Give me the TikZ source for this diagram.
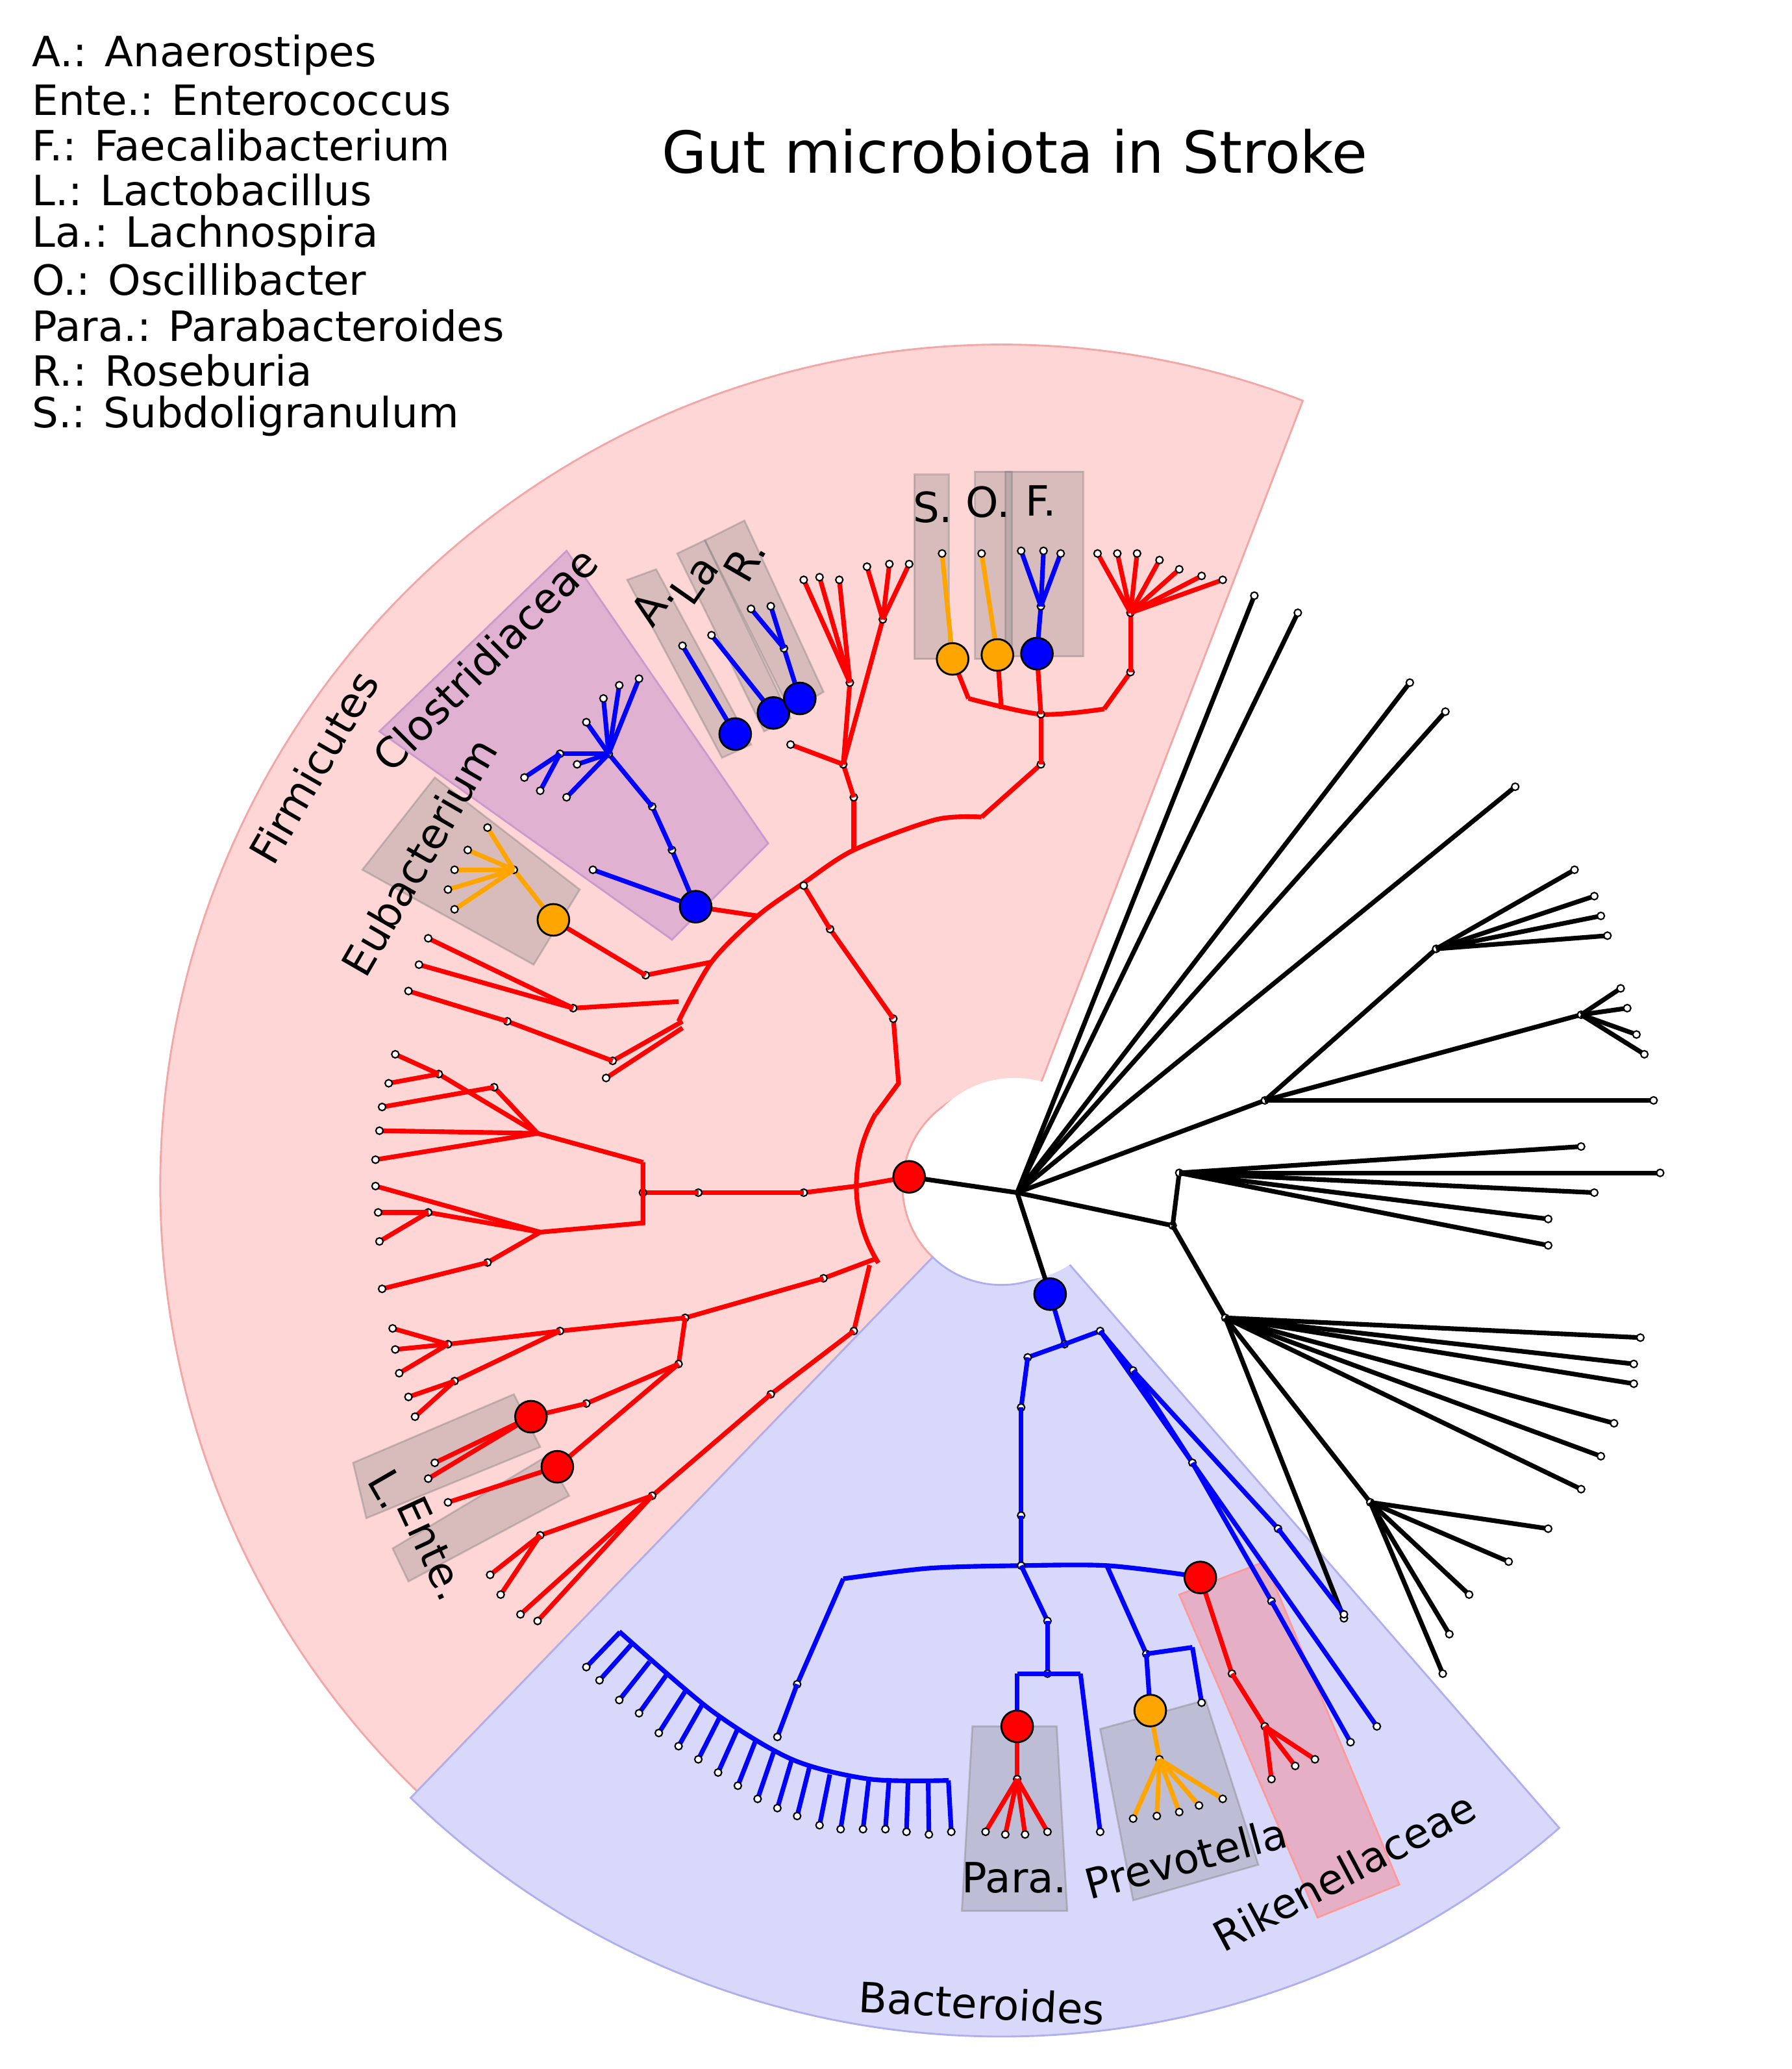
\documentclass[tikz,border=0pt]{standalone}
\usepackage{fontspec}
\setmainfont{DejaVu Sans}
\usetikzlibrary{calc}
\definecolor{pk}{HTML}{FFD6D6}\definecolor{pkb}{HTML}{F4A6A6}
\definecolor{bl}{HTML}{D8D8FA}\definecolor{blb}{HTML}{AFAFF0}
\definecolor{rd}{HTML}{FF0000}\definecolor{bu}{HTML}{0000FF}\definecolor{og}{HTML}{FFA500}
\begin{document}
\begin{tikzpicture}[x=0.01cm,y=0.01cm,
 tip/.style={circle,draw=black,fill=white,line width=0.3pt,inner sep=0,minimum size=0.055cm},
 dot/.style={circle,draw=black,line width=0.4pt,inner sep=0,minimum size=0.24cm},
 br/.style={line width=1pt},
 hl/.style={fill=gray,fill opacity=0.3,draw=gray,draw opacity=0.4},
 lab/.style={font=\fontsize{9}{10}\selectfont,inner sep=1pt},
 leg/.style={anchor=west,font=\fontsize{9}{10}\selectfont}]
\useasboundingbox (0,0) rectangle (1360,-1570);
\coordinate (C) at (760,-900);
% wedges
\fill[pk,draw=pkb] ($(C)+(69:6.38cm)$) arc[start angle=69,end angle=226,radius=6.38cm] -- ($(C)+(226:0.75cm)$) arc[start angle=226,end angle=69,radius=0.75cm] -- cycle;
\fill[bl,draw=blb] ($(C)+(226:6.45cm)$) arc[start angle=226,end angle=311,radius=6.45cm] -- ($(C)+(311:0.75cm)$) arc[start angle=311,end angle=226,radius=0.75cm] -- cycle;
\fill[white] (770,-895) circle (0.77cm);
% highlight boxes
\fill[violet!40,fill opacity=0.6,draw=violet!40] (288,-555) -- (430,-418) -- (583,-640) -- (510,-713) -- cycle;
\path[hl] (275,-660) -- (330,-590) -- (440,-675) -- (405,-732) -- cycle;
\path[hl] (476,-440) -- (498,-432) -- (570,-565) -- (548,-575) -- cycle;
\path[hl] (514,-420) -- (535,-410) -- (600,-545) -- (580,-555) -- cycle;
\path[hl] (535,-410) -- (565,-395) -- (625,-525) -- (600,-540) -- cycle;
\path[hl] (694,-360) -- (720,-360) -- (720,-500) -- (694,-500) -- cycle;
\path[hl] (740,-358) -- (768,-358) -- (768,-500) -- (740,-500) -- cycle;
\path[hl] (763,-358) -- (822,-358) -- (822,-498) -- (763,-498) -- cycle;
\path[hl] (268,-1110) -- (390,-1058) -- (410,-1098) -- (278,-1152) -- cycle;
\path[hl] (298,-1175) -- (415,-1105) -- (432,-1135) -- (310,-1200) -- cycle;
\path[hl] (738,-1310) -- (802,-1310) -- (810,-1450) -- (730,-1450) -- cycle;
\path[hl] (835,-1312) -- (915,-1290) -- (955,-1415) -- (860,-1442) -- cycle;
\fill[rd!60,fill opacity=0.35,draw=rd!40] (895,-1210) -- (960,-1185) -- (1062,-1430) -- (1000,-1455) -- cycle;
% black clade
\coordinate (R) at (772,-905);
\foreach \a/\b/\c/\d in {772/905/952/452,772/905/985/465,772/905/1070/518,772/905/1097/540,772/905/1150/597,
 772/905/960/835,960/835/1090/720,1090/720/1195/660,1090/720/1210/680,1090/720/1215/695,1090/720/1220/710,
 960/835/1200/770,1200/770/1230/750,1200/770/1235/765,1200/770/1242/785,1200/770/1248/800,960/835/1255/835,
 772/905/890/930,890/930/895/890,895/890/1260/890,895/890/1200/870,895/890/1210/905,895/890/1175/925,895/890/1175/945,
 890/930/930/1000,930/1000/1245/1015,930/1000/1240/1035,930/1000/1240/1050,930/1000/1225/1080,930/1000/1215/1105,930/1000/1200/1130,
 930/1000/1040/1140,1040/1140/1175/1160,1040/1140/1145/1185,1040/1140/1115/1210,1040/1140/1100/1240,1040/1140/1095/1270,930/1000/1020/1228}
 \draw[br,black] (\a,-\b) -- (\c,-\d) node[tip]{};
\draw[br,black] (690,-893) -- (R) -- (797,-982);
% red clade
\draw[br,rd] ($(C)+(150:1.1cm)$) arc[start angle=150,end angle=212,radius=1.1cm];
\draw[br,rd] (650,-900) -- (690,-893);
\draw[br,rd] plot[smooth] coordinates {(515,-775) (540,-730) (575,-695) (610,-670) (648,-645) (710,-622) (745,-620)};
\draw[br,rd] (665,-845) -- (682,-822) -- (678,-773) node[tip]{};
\draw[br,rd] plot[smooth] coordinates {(735,-530) (790,-542) (838,-538)};
\foreach \a/\b/\c/\d in {678/773/630/705,630/705/610/672,648/645/648/605,648/605/640/580,640/580/600/565,
 640/580/645/518,645/518/610/440,645/518/622/438,645/518/637/440,640/580/670/470,670/470/658/430,670/470/675/428,670/470/690/428,
 745/620/790/580,790/580/790/542,838/538/858/510,858/510/858/465,858/465/833/420,858/465/848/420,858/465/863/420,858/465/880/425,858/465/895/432,858/465/912/437,858/465/928/440,
 735/530/723/500,760/538/757/497,790/542/787/496,
 575/695/528/688,540/730/490/740,490/740/420/698,
 515/760/435/765,435/765/325/712,435/765/318/732,518/775/465/805,465/805/385/775,385/775/310/752,518/780/460/818,
 650/900/610/905,610/905/530/905,530/905/488/905,
 408/860/333/815,333/815/300/800,333/815/295/822,408/860/375/825,375/825/290/840,408/860/288/858,408/860/285/880,
 410/935/325/920,325/920/287/920,325/920/288/942,410/935/370/958,370/958/290/978,410/935/285/900,
 665/955/625/970,625/970/520/1000,520/1000/425/1010,425/1010/340/1020,340/1020/298/1008,340/1020/300/1024,340/1020/303/1042,
 425/1010/345/1048,345/1048/310/1060,345/1048/315/1075,520/1000/515/1035,515/1035/445/1065,445/1065/403/1075,
 515/1035/423/1113,403/1075/330/1110,403/1075/325/1122,423/1113/340/1140,
 660/960/648/1010,648/1010/585/1058,585/1058/495/1135,495/1135/410/1165,410/1165/372/1195,410/1165/380/1210,495/1135/395/1225,495/1135/408/1230}
 \draw[br,rd] (\a,-\b) -- (\c,-\d) node[tip]{};
\draw[br,rd] (488,-882) -- (408,-860);
\draw[br,rd] (488,-882) -- (488,-928) -- (410,-935);
% orange and blue in firmicutes
\foreach \a/\b/\c/\d in {420/698/390/660,390/660/370/628,390/660/355/645,390/660/345/660,390/660/340/675,390/660/345/690,723/500/715/420,757/497/745/420}
 \draw[br,og] (\a,-\b) -- (\c,-\d) node[tip]{};
\foreach \a/\b/\c/\d in {528/688/450/660,528/688/510/645,510/645/495/612,495/612/462/572,462/572/485/515,462/572/470/520,462/572/458/530,462/572/445/548,
 462/572/425/572,425/572/398/590,425/572/410/600,462/572/430/605,462/572/438/580,
 558/557/518/490,587/541/540/482,607/530/595/492,595/492/570/462,595/492/585/460,
 787/496/790/460,790/460/775/418,790/460/792/418,790/460/805/420}
 \draw[br,bu] (\a,-\b) -- (\c,-\d) node[tip]{};
% Bacteroides
\draw[br,bu] plot[smooth] coordinates {(640,-1198) (705,-1190) (775,-1188) (840,-1188) (900,-1195)};
\draw[br,bu] plot[smooth] coordinates {(470,-1238) (540,-1298) (601,-1335) (660,-1350) (720,-1351)};
\foreach \lx/\ly in {445/1265,455/1275,470/1290,485/1300,500/1315,515/1325,530/1335,545/1345,560/1355,575/1365,590/1372,605/1378,622/1385,638/1388,655/1388,672/1388,688/1390,705/1392,722/1390}
 \draw[br,bu] ($(\lx,-\ly)!0.1!(700,-1000)$) -- (\lx,-\ly) node[tip]{};
\foreach \a/\b/\c/\d in {797/982/808/1020,808/1020/780/1030,780/1030/775/1068,775/1068/775/1150,775/1150/775/1188,
 640/1198/605/1278,605/1278/590/1318,775/1188/795/1230,795/1230/795/1270,772/1270/772/1310,820/1270/835/1390,
 840/1188/870/1255,870/1255/873/1298,905/1250/912/1292,808/1020/835/1010,835/1010/1045/1310,835/1010/860/1040,860/1040/905/1110,905/1110/965/1215,965/1215/1025/1322,860/1040/970/1160,970/1160/1020/1225}
 \draw[br,bu] (\a,-\b) -- (\c,-\d) node[tip]{};
\draw[br,bu] (772,-1270) -- (820,-1270);
\draw[br,bu] (870,-1255) -- (905,-1250);
\draw[br,bu] (900,-1195) -- (911,-1197);
\foreach \a/\b/\c/\d in {772/1310/772/1350,772/1350/748/1390,772/1350/763/1392,772/1350/778/1392,772/1350/795/1390,
 911/1197/935/1270,935/1270/960/1310,960/1310/965/1350,960/1310/983/1340,960/1310/998/1335}
 \draw[br,rd] (\a,-\b) -- (\c,-\d) node[tip]{};
\foreach \a/\b/\c/\d in {873/1298/880/1335,880/1335/860/1380,880/1335/878/1378,880/1335/895/1375,880/1335/910/1370,880/1335/928/1365}
 \draw[br,og] (\a,-\b) -- (\c,-\d) node[tip]{};
% big dots
\node[dot,fill=rd] (rr) at (690,-893) {};
\node[dot,fill=bu] (bb) at (797,-982) {};
\node[dot,fill=bu] (cl) at (528,-688) {};
\node[dot,fill=og] (eu) at (420,-698) {};
\node[dot,fill=bu] (da) at (558,-557) {};
\node[dot,fill=bu] (dla) at (587,-541) {};
\node[dot,fill=bu] (dr) at (607,-530) {};
\node[dot,fill=og] (ds) at (723,-500) {};
\node[dot,fill=og] (do) at (757,-497) {};
\node[dot,fill=bu] (df) at (787,-496) {};
\node[dot,fill=rd] (dl) at (403,-1075) {};
\node[dot,fill=rd] (de) at (423,-1113) {};
\node[dot,fill=rd] (dp) at (772,-1310) {};
\node[dot,fill=og] (dv) at (873,-1298) {};
\node[dot,fill=rd] (dk) at (911,-1197) {};
% labels
\node[lab,rotate=60] (t1) at (238,-582) {Firmicutes};
\node[lab,rotate=45] (t2) at (368,-500) {Clostridiaceae};
\node[lab,rotate=60] (t3) at (318,-650) {Eubacterium};
\node[lab,rotate=55] (t4) at (495,-458) {A.};
\node[lab,rotate=55] (t5) at (527,-440) {La};
\node[lab,rotate=60] (t6) at (565,-425) {R.};
\node[lab] (t7) at (708,-385) {S.};
\node[lab] (t8) at (750,-381) {O.};
\node[lab] (t9) at (790,-380) {F.};
\node[lab,rotate=-60] (t10) at (295,-1130) {L.};
\node[lab,rotate=-65] (t11) at (328,-1175) {Ente.};
\node[lab] (t12) at (770,-1425) {Para.};
\node[lab,rotate=15] (t13) at (900,-1410) {Prevotella};
\node[lab,rotate=28] (t14) at (1020,-1420) {Rikenellaceae};
\node[lab,rotate=-3] (t15) at (745,-1520) {Bacteroides};
\node[font=\fontsize{12.5}{14}\selectfont] (title) at (770,-115) {Gut microbiota in Stroke};
\node[leg] (l1) at (12,-42) {A.: Anaerostipes};
\node[leg] (l2) at (12,-76) {Ente.: Enterococcus};
\node[leg] (l3) at (12,-110) {F.: Faecalibacterium};
\node[leg] (l4) at (12,-144) {L.: Lactobacillus};
\node[leg] (l5) at (12,-179) {La.: Lachnospira};
\node[leg] (l6) at (12,-212) {O.: Oscillibacter};
\node[leg] (l7) at (12,-247) {Para.: Parabacteroides};
\node[leg] (l8) at (12,-281) {R.: Roseburia};
\node[leg] (l9) at (12,-316) {S.: Subdoligranulum};
\end{tikzpicture}
\end{document}
